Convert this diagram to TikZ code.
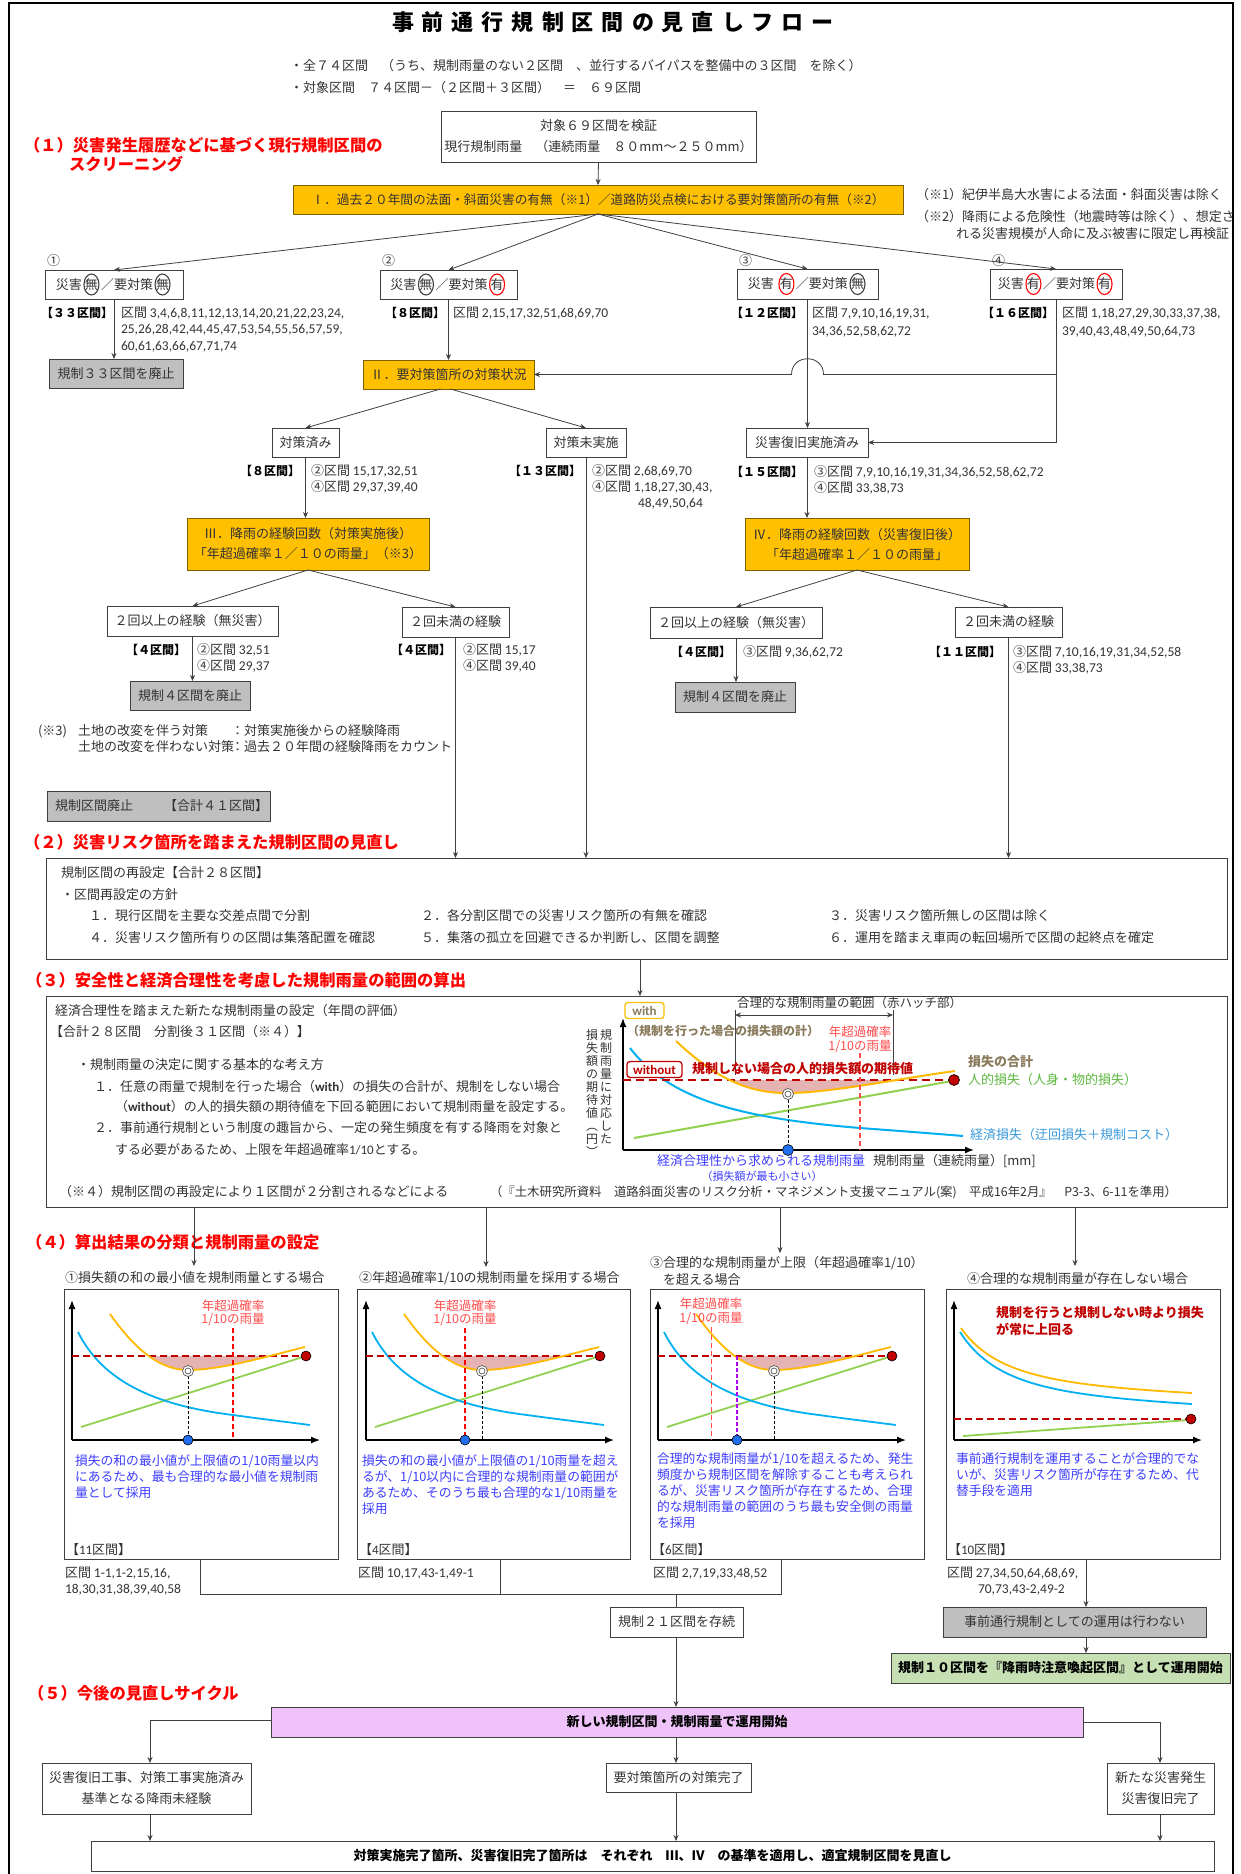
\documentclass[tikz,border=0pt]{standalone}
\usepackage{fontspec}
\setmainfont{Noto Sans CJK JP}
\newfontfamily\carl{Carlito}
\usetikzlibrary{arrows.meta}
\definecolor{tx}{HTML}{333333}
\definecolor{ln}{HTML}{404040}
\definecolor{orangebar}{HTML}{FFC000}
\definecolor{orangeedge}{HTML}{7F6000}
\definecolor{grayfill}{HTML}{BFBFBF}
\definecolor{headred}{HTML}{FF0000}
\definecolor{darkred}{HTML}{C00000}
\definecolor{curveorange}{HTML}{FFB900}
\definecolor{curveblue}{HTML}{00B0F0}
\definecolor{curvegreen}{HTML}{92D050}
\definecolor{hatch}{HTML}{E6B3B3}
\definecolor{noteblue}{HTML}{3D3DFF}
\definecolor{labred}{HTML}{FF4B4B}
\definecolor{olive}{HTML}{8A7B5C}
\definecolor{dotblue}{HTML}{1F6FEF}
\definecolor{violetfill}{HTML}{EFC2FA}
\definecolor{greenfill}{HTML}{C6E0B4}
\definecolor{legblue}{HTML}{3A9AD9}
\definecolor{leggreen}{HTML}{5DB83F}
\definecolor{purpledash}{HTML}{B000F0}

\newcommand\nums[1]{{\carl\fontsize{13.5}{16}\selectfont #1}}
\def\lspx#1{\ifx#1\relax\else#1\hspace{8pt}\expandafter\lspx\fi}
% a character ringed by an upright ellipse
\newcommand\mk[2]{\hspace{1.5pt}\tikz[baseline]{\node[anchor=base,inner sep=0pt,outer sep=0pt,minimum width=0pt,minimum height=0pt,draw=none,fill=none](mkq){#2};\draw[#1,line width=1.1pt](mkq.center) ellipse [x radius=7.5pt,y radius=10.5pt];}\hspace{1.5pt}}
% box from its top-left and bottom-right corners
\newcommand\bxn[7]{\pgfmathsetmacro\bw{#5-#3}\pgfmathsetmacro\bh{#6-#4}%
 \node[#2,minimum width=\bw pt,minimum height=\bh pt,anchor=north west] (#1) at (#3,#4) {#7};}
\def\orangepath{(38,-126) .. controls (60,-95) and (85,-70) .. (116,-70) .. controls (150,-70) and (200,-85) .. (233,-93)}
\newcommand\tgt[2]{\draw[gray!70!black,line width=0.7pt,fill=white] (#1,#2) circle[radius=5.5pt];
 \draw[gray!70!black,line width=0.7pt] (#1,#2) circle[radius=3pt];}
\newcommand\panelaxes[1]{%
 \draw[black,line width=1.3pt,-{Latex[length=9pt,width=7pt]}] (#1,1440) -- (#1,1300);
 \draw[black,line width=1.3pt,-{Latex[length=9pt,width=7pt]}] (#1,1440) -- ++(248,0);}
\newcommand\losscurves[1]{%
 \begin{scope}[shift={(#1,1440)}]
  \begin{scope}\clip (0,-84) rectangle (250,0);
   \fill[hatch] \orangepath -- cycle;
  \end{scope}
  \draw[curvegreen,line width=1.8pt] (9,-13) -- (234,-84);
  \draw[curveblue,line width=1.8pt] (6,-108) .. controls (30,-60) and (80,-35) .. (161,-25) .. controls (190,-21) and (215,-18) .. (238,-15);
  \draw[darkred,line width=1.8pt,dash pattern=on 7pt off 4pt] (0,-84) -- (234,-84);
  \draw[curveorange,line width=1.8pt] \orangepath;
  \fill[darkred,draw=black,line width=0.6pt] (234,-84) circle[radius=5pt];
 \end{scope}}

\tikzset{
 txt/.style={inner sep=0pt,outer sep=0pt,anchor=west,text=tx,font=\fontsize{13}{16}\selectfont},
 txtb/.style={txt,anchor=east,text=black,font=\fontsize{12}{16}\selectfont\bfseries},
 hdr/.style={inner sep=0pt,outer sep=0pt,anchor=west,text=headred,font=\fontsize{16.3}{20}\selectfont\bfseries},
 bxplain/.style={draw=ln,line width=1pt,fill=white,inner sep=0pt,outer sep=0pt,text=tx,align=center,font=\fontsize{13}{21}\selectfont},
 bxorange/.style={bxplain,fill=orangebar,draw=orangeedge},
 bxgray/.style={bxplain,fill=grayfill},
 conn/.style={draw=ln,line width=0.8pt},
 arw/.style={conn,-{Stealth[length=6pt,width=5pt]}},
 note/.style={inner sep=0pt,outer sep=0pt,anchor=north west,align=left,text=noteblue,font=\fontsize{12.8}{16}\selectfont},
 redlab/.style={inner sep=0pt,outer sep=0pt,text=labred,font=\fontsize{12.5}{14}\selectfont},
}

\begin{document}
\begin{tikzpicture}[x=1pt,y=-1pt]
\useasboundingbox[fill=white] (0,0) rectangle (1240,1874);
\draw[black,line width=2.2pt] (9,1900) -- (9,3) -- (1233,3) -- (1233,1900);

% ---------- header ----------
\node[inner sep=0pt,text=black,font=\fontsize{22}{26}\selectfont\bfseries] (title) at (613,22) {\lspx 事前通行規制区間の見直しフロー\relax};
\node[txt] (h1) at (290,66) {・全７４区間　（うち、規制雨量のない２区間　、並行するバイパスを整備中の３区間　を除く）};
\node[txt] (h2) at (290,88) {・対象区間　７４区間－（２区間＋３区間）　＝　６９区間};

% ---------- (1) screening ----------
\node[hdr] (s1a) at (24,145) {（１）災害発生履歴などに基づく現行規制区間の};
\node[hdr] (s1b) at (69,164) {スクリーニング};
\bxn{top}{bxplain}{441}{111}{756}{162}{対象６９区間を検証\\現行規制雨量　（連続雨量　８０mm～２５０mm）}
\bxn{bar1}{bxorange,font=\fontsize{12.7}{16}\selectfont}{293}{185}{903}{214}{Ⅰ．過去２０年間の法面・斜面災害の有無（※1）／道路防災点検における要対策箇所の有無（※2）}
\draw[arw] (top.south) -- (bar1.north);
\node[txt] (n1) at (916,195) {（※1）紀伊半島大水害による法面・斜面災害は除く};
\node[txt] (n2) at (916,217) {（※2）降雨による危険性（地震時等は除く）、想定さ};
\node[txt] (n3) at (956,234) {れる災害規模が人命に及ぶ被害に限定し再検証};

\bxn{k1}{bxplain}{45}{270}{183}{299}{災害\mk{ln}{無}／要対策\mk{ln}{無}}
\bxn{k2}{bxplain}{380}{270}{517}{299}{災害\mk{ln}{無}／要対策\mk{red}{有}}
\bxn{k3}{bxplain}{737}{269}{878}{299}{災害 \mk{red}{有}／要対策\mk{ln}{無}}
\bxn{k4}{bxplain}{990}{269}{1122}{299}{災害\mk{red}{有}／要対策\mk{red}{有}}
\node[txt] (m1) at (47,261) {①};
\node[txt] (m2) at (382,261) {②};
\node[txt] (m3) at (739,261) {③};
\node[txt] (m4) at (992,261) {④};
\coordinate (bb) at (598,214);
\draw[arw] (bb) -- (k1.north);
\draw[arw] (bb) -- (k2.north);
\draw[arw] (bb) -- (k3.north);
\draw[arw] (bb) -- (k4.north);

\node[txtb] at (113,313) {【３３区間】};
\node[txt] at (121,313) {区間 \nums{3,4,6,8,11,12,13,14,20,21,22,23,24,}};
\node[txt] at (121,330) {\nums{25,26,28,42,44,45,47,53,54,55,56,57,59,}};
\node[txt] at (121,347) {\nums{60,61,63,66,67,71,74}};
\node[txtb] at (445,313) {【８区間】};
\node[txt] at (453,313) {区間 \nums{2,15,17,32,51,68,69,70}};
\node[txtb] at (803,313) {【１２区間】};
\node[txt] at (812,313) {区間 \nums{7,9,10,16,19,31,}};
\node[txt] at (812,332) {\nums{34,36,52,58,62,72}};
\node[txtb] at (1054,313) {【１６区間】};
\node[txt] at (1062,313) {区間 \nums{1,18,27,29,30,33,37,38,}};
\node[txt] at (1062,332) {\nums{39,40,43,48,49,50,64,73}};

\bxn{g33}{bxgray}{49}{359}{183}{388}{規制３３区間を廃止}
\bxn{b2}{bxorange}{363}{360}{534}{389}{Ⅱ．要対策箇所の対策状況}
\draw[arw] (k1.south) -- (k1.south |- g33.north);
\draw[arw] (k2.south) -- (k2.south |- b2.north);

\bxn{tk1}{bxplain}{272}{428}{339}{457}{対策済み}
\bxn{tk2}{bxplain}{546}{428}{626}{457}{対策未実施}
\bxn{sf}{bxplain}{746}{428}{868}{457}{災害復旧実施済み}
\draw[arw] (k3.south) -- (k3.south |- sf.north);
\draw[arw] (k4.south) -- (k4.south |- sf.east) -- (sf.east);
\coordinate (jn) at (k4.south |- b2.east);
\draw[arw] (jn) -- ([xshift=16pt]k3.south |- b2.east) .. controls +(0,-21) and +(0,-21) .. ([xshift=-16pt]k3.south |- b2.east) -- (b2.east);
\draw[arw] ([xshift=-8pt]b2.south) -- (tk1.north);
\draw[arw] ([xshift=2pt]b2.south) -- (tk2.north);

\node[txtb] at (300,471) {【８区間】};
\node[txt] at (311,471) {②区間 \nums{15,17,32,51}};
\node[txt] at (311,487) {④区間 \nums{29,37,39,40}};
\node[txtb] at (581,471) {【１３区間】};
\node[txt] at (592,471) {②区間 \nums{2,68,69,70}};
\node[txt] at (592,487) {④区間 \nums{1,18,27,30,43,}};
\node[txt] at (638,504) {\nums{48,49,50,64}};
\node[txtb] at (803,472) {【１５区間】};
\node[txt] at (814,472) {③区間 \nums{7,9,10,16,19,31,34,36,52,58,62,72}};
\node[txt] at (814,488) {④区間 \nums{33,38,73}};

\bxn{b3}{bxorange,font=\fontsize{13}{20}\selectfont}{187}{518}{429}{570}{Ⅲ．降雨の経験回数（対策実施後）\\「年超過確率１／１０の雨量」（※3）}
\bxn{b4}{bxorange,font=\fontsize{13}{20}\selectfont}{745}{518}{969}{570}{Ⅳ．降雨の経験回数（災害復旧後）\\「年超過確率１／１０の雨量」}
\draw[arw] (tk1.south) -- (tk1.south |- b3.north);
\draw[arw] (sf.south) -- (sf.south |- b4.north);

\bxn{l2a}{bxplain}{107}{606}{278}{636}{２回以上の経験（無災害）}
\bxn{l2b}{bxplain}{402}{607}{509}{637}{２回未満の経験}
\bxn{r2a}{bxplain}{650}{607}{822}{638}{２回以上の経験（無災害）}
\bxn{r2b}{bxplain}{955}{607}{1062}{637}{２回未満の経験}
\draw[arw] (b3.south) -- (l2a.north);
\draw[arw] (b3.south) -- (l2b.north);
\draw[arw] (b4.south) -- (r2a.north);
\draw[arw] (b4.south) -- (r2b.north);

\node[txtb] at (186,650) {【４区間】};
\node[txt] at (197,650) {②区間 \nums{32,51}};
\node[txt] at (197,666) {④区間 \nums{29,37}};
\node[txtb] at (451,650) {【４区間】};
\node[txt] at (463,650) {②区間 \nums{15,17}};
\node[txt] at (463,666) {④区間 \nums{39,40}};
\node[txtb] at (731,652) {【４区間】};
\node[txt] at (743,652) {③区間 \nums{9,36,62,72}};
\node[txtb] at (1001,652) {【１１区間】};
\node[txt] at (1013,652) {③区間 \nums{7,10,16,19,31,34,52,58}};
\node[txt] at (1013,668) {④区間 \nums{33,38,73}};

\bxn{g4a}{bxgray}{130}{681}{250}{710}{規制４区間を廃止}
\bxn{g4b}{bxgray}{675}{682}{795}{712}{規制４区間を廃止}
\draw[arw] (l2a.south) -- (l2a.south |- g4a.north);
\draw[arw] (r2a.south) -- (r2a.south |- g4b.north);

\node[txt] at (38,731) {(※3)};
\node[txt] at (78,731) {土地の改変を伴う対策};
\node[txt] at (231,731) {：対策実施後からの経験降雨};
\node[txt] at (78,747) {土地の改変を伴わない対策};
\node[txt] at (231,747) {：過去２０年間の経験降雨をカウント};

\bxn{g41}{bxgray}{47}{791}{270}{821}{}
\node[txt] at (55,806) {規制区間廃止};
\node[txt] at (164,806) {【合計４１区間】};

% ---------- (2) ----------
\node[hdr] (s2) at (24,842) {（２）災害リスク箇所を踏まえた規制区間の見直し};
\bxn{box2}{bxplain}{46}{858}{1227}{959}{}
\draw[arw] (tk2.south) -- (tk2.south |- box2.north);
\draw[arw] (l2b.south) -- (l2b.south |- box2.north);
\draw[arw] (r2b.south) -- (r2b.south |- box2.north);
\node[txt] at (61,873) {規制区間の再設定【合計２８区間】};
\node[txt] at (61,895) {・区間再設定の方針};
\node[txt] at (89,916) {１．現行区間を主要な交差点間で分割};
\node[txt] at (421,916) {２．各分割区間での災害リスク箇所の有無を確認};
\node[txt] at (829,916) {３．災害リスク箇所無しの区間は除く};
\node[txt] at (89,938) {４．災害リスク箇所有りの区間は集落配置を確認};
\node[txt] at (421,938) {５．集落の孤立を回避できるか判断し、区間を調整};
\node[txt] at (829,938) {６．運用を踏まえ車両の転回場所で区間の起終点を確定};

% ---------- (3) ----------
\node[hdr] (s3) at (26,980) {（３）安全性と経済合理性を考慮した規制雨量の範囲の算出};
\bxn{box3}{bxplain}{46}{996}{1227}{1207}{}
\coordinate (c23) at (640,959);
\draw[arw] (box2.south -| c23) -- (box3.north -| c23);
\begin{scope}[every node/.append style={font=\fontsize{12.7}{16}\selectfont}]
\node[txt] at (55,1011) {経済合理性を踏まえた新たな規制雨量の設定（年間の評価）};
\node[txt] at (50,1032) {【合計２８区間　分割後３１区間（※４）】};
\node[txt] at (77,1065) {・規制雨量の決定に関する基本的な考え方};
\node[txt] at (94,1087) {１．任意の雨量で規制を行った場合（{\carl\bfseries with}）の損失の合計が、規制をしない場合};
\node[txt] at (115,1107) {（{\carl\bfseries without}）の人的損失額の期待値を下回る範囲において規制雨量を設定する。};
\node[txt] at (94,1128) {２．事前通行規制という制度の趣旨から、一定の発生頻度を有する降雨を対象と};
\node[txt] at (115,1150) {する必要があるため、上限を年超過確率{\carl 1/10}とする。};
\node[txt] at (59,1192) {（※４）規制区間の再設定により１区間が２分割されるなどによる};
\end{scope}
\node[txt,font=\fontsize{12.4}{15}\selectfont] at (490,1192) {（『土木研究所資料　道路斜面災害のリスク分析・マネジメント支援マニュアル(案)　平成16年2月』　P3-3、6-11を準用）};

% loss chart
\node[inner sep=0pt,anchor=north,align=center,text=tx,font=\fontsize{12}{13}\selectfont] (ylab1) at (606,1029) {規\\制\\雨\\量\\に\\対\\応\\し\\た};
\node[inner sep=0pt,anchor=north,align=center,text=tx,font=\fontsize{12}{13}\selectfont] (ylab2) at (592,1029) {損\\失\\額\\の\\期\\待\\値\\︵\\円\\︶};
\draw[black,line width=1.5pt,-{Latex[length=9pt,width=7pt]}] (623,1150) -- (623,1018);
\draw[black,line width=1.5pt,-{Latex[length=9pt,width=7pt]}] (623,1150) -- (974,1150);
\begin{scope}
 \clip (600,1080) rectangle (1000,1200);
 \fill[hatch] (676,1041) .. controls (712,1075) and (745,1093) .. (786,1093) .. controls (830,1093) and (890,1080) .. (955,1071) -- cycle;
\end{scope}
\draw[curvegreen,line width=2pt] (634,1138) -- (952,1081);
\draw[curveblue,line width=2pt] (630,1048) .. controls (670,1100) and (740,1118) .. (860,1128) .. controls (900,1131) and (940,1134) .. (963,1136);
\draw[darkred,line width=2pt,dash pattern=on 8pt off 5pt] (623,1080) -- (954,1080);
\draw[curveorange,line width=2pt] (676,1041) .. controls (712,1075) and (745,1093) .. (786,1093) .. controls (830,1093) and (890,1080) .. (955,1071);
\draw[labred,line width=1.5pt,dash pattern=on 5pt off 3pt] (860,1053) -- (860,1150);
\draw[black,line width=0.7pt,dash pattern=on 3pt off 2pt] (788,1100) -- (788,1150);
\tgt{788}{1094}
\fill[darkred,draw=black,line width=0.6pt] (954,1080) circle[radius=5.5pt];
\fill[dotblue,draw=black,line width=0.6pt] (788,1150) circle[radius=5.5pt];
\draw[conn] (735,1010) -- (735,1075);
\draw[conn] (893,1010) -- (893,1075);
\draw[conn,{Stealth[length=6pt,width=5pt]}-{Stealth[length=6pt,width=5pt]}] (735,1015) -- (893,1015);
\node[txt,font=\fontsize{12.5}{15}\selectfont] at (737,1003) {合理的な規制雨量の範囲（赤ハッチ部）};
\node[inner sep=0pt,rounded corners=3pt,draw=orangebar,line width=1.3pt,fill=white,minimum width=39pt,minimum height=16pt,text=olive,font=\carl\bfseries\fontsize{13}{15}\selectfont] (withlab) at (644.5,1010.5) {with};
\node[txt,text=olive,font=\fontsize{12}{16}\selectfont\bfseries] at (627,1031) {（規制を行った場合の損失額の計）};
\node[redlab] at (860,1032) {年超過確率};
\node[redlab] at (860,1047) {1/10の雨量};
\node[inner sep=0pt,rounded corners=3pt,draw=darkred,line width=1.3pt,fill=white,minimum width=55pt,minimum height=16pt,text=darkred,font=\carl\bfseries\fontsize{13}{15}\selectfont] (wolab) at (654.5,1069.5) {without};
\node[txt,text=darkred,font=\fontsize{13}{16}\selectfont\bfseries] at (692,1069) {規制しない場合の人的損失額の期待値};
\node[txt,text=olive,font=\fontsize{13}{16}\selectfont\bfseries] at (968,1062) {損失の合計};
\node[txt,text=leggreen] at (968,1080) {人的損失（人身・物的損失）};
\node[txt,text=legblue] at (970,1135) {経済損失（迂回損失＋規制コスト）};
\node[inner sep=0pt,text=noteblue,font=\fontsize{13}{16}\selectfont] at (761,1161) {経済合理性から求められる規制雨量};
\node[inner sep=0pt,text=noteblue,font=\fontsize{11}{13}\selectfont] at (762,1176) {（損失額が最も小さい）};
\node[txt] at (873,1161) {規制雨量（連続雨量）[mm]};

% ---------- (4) ----------
\node[hdr] (s4) at (26,1242) {（４）算出結果の分類と規制雨量の設定};
\node[txt] (pt1) at (65,1278) {①損失額の和の最小値を規制雨量とする場合};
\node[txt] (pt2) at (359,1278) {②年超過確率1/10の規制雨量を採用する場合};
\node[txt] (pt3) at (650,1263) {③合理的な規制雨量が上限（年超過確率1/10）};
\node[txt] (pt3b) at (663,1280) {を超える場合};
\node[txt] (pt4) at (967,1279) {④合理的な規制雨量が存在しない場合};
\coordinate (a1) at (194,1266);
\coordinate (a2) at (486,1267);
\coordinate (a3) at (780,1253);
\coordinate (a4) at (1075,1266);
\draw[arw] (box3.south -| a1) -- (a1);
\draw[arw] (box3.south -| a2) -- (a2);
\draw[arw] (box3.south -| a3) -- (a3);
\draw[arw] (box3.south -| a4) -- (a4);

\bxn{p1}{bxplain}{64.5}{1289}{338}{1559}{}
\bxn{p2}{bxplain}{357}{1289}{630}{1559}{}
\bxn{p3}{bxplain}{650}{1289}{924}{1559}{}
\bxn{p4}{bxplain}{946}{1289}{1220}{1559}{}

% panel 1
\panelaxes{72}
\losscurves{72}
\begin{scope}[shift={(72,1440)}]
 \draw[red,line width=1.8pt,dash pattern=on 5pt off 3pt] (161,-112) -- (161,0);
 \draw[black,line width=0.7pt,dash pattern=on 3pt off 2pt] (116,-64) -- (116,0);
 \tgt{116}{-69}
 \fill[dotblue,draw=black,line width=0.6pt] (116,0) circle[radius=5pt];
\end{scope}
\node[redlab] at (233,1306) {年超過確率};
\node[redlab] at (233,1320) {1/10の雨量};
\node[note] at (75,1455) {損失の和の最小値が上限値の1/10雨量以内\\にあるため、最も合理的な最小値を規制雨\\量として採用};
\node[txt] at (66,1550) {【{\carl 11}区間】};

% panel 2
\panelaxes{366}
\losscurves{366}
\begin{scope}[shift={(366,1440)}]
 \draw[red,line width=1.8pt,dash pattern=on 5pt off 3pt] (99,-112) -- (99,0);
 \draw[black,line width=0.7pt,dash pattern=on 3pt off 2pt] (116,-64) -- (116,0);
 \tgt{116}{-69}
 \fill[dotblue,draw=black,line width=0.6pt] (99,0) circle[radius=5pt];
\end{scope}
\node[redlab] at (465,1306) {年超過確率};
\node[redlab] at (465,1320) {1/10の雨量};
\node[note] at (362,1455) {損失の和の最小値が上限値の1/10雨量を超え\\るが、1/10以内に合理的な規制雨量の範囲が\\あるため、そのうち最も合理的な1/10雨量を\\採用};
\node[txt] at (359,1550) {【{\carl 4}区間】};

% panel 3
\panelaxes{658}
\losscurves{658}
\begin{scope}[shift={(658,1440)}]
 \draw[labred,line width=1pt,dash pattern=on 5pt off 3pt] (53,-113) -- (53,0);
 \draw[purpledash,line width=1.3pt,dash pattern=on 4pt off 2pt] (79,-84) -- (79,0);
 \draw[black,line width=0.7pt,dash pattern=on 3pt off 2pt] (116,-64) -- (116,0);
 \tgt{116}{-69}
 \fill[dotblue,draw=black,line width=0.6pt] (79,0) circle[radius=5pt];
\end{scope}
\node[redlab] at (711,1304) {年超過確率};
\node[redlab] at (711,1319) {1/10の雨量};
\node[note] at (657,1453) {合理的な規制雨量が1/10を超えるため、発生\\頻度から規制区間を解除することも考えられ\\るが、災害リスク箇所が存在するため、合理\\的な規制雨量の範囲のうち最も安全側の雨量\\を採用};
\node[txt] at (652,1550) {【{\carl 6}区間】};

% panel 4
\panelaxes{954}
\begin{scope}[shift={(954,1440)}]
 \draw[curvegreen,line width=1.8pt] (9,-4) -- (235,-20);
 \draw[curveblue,line width=1.8pt] (6,-108) .. controls (40,-55) and (100,-45) .. (238,-36);
 \draw[curveorange,line width=1.8pt] (7,-112) .. controls (40,-65) and (100,-55) .. (238,-47);
 \draw[darkred,line width=1.8pt,dash pattern=on 7pt off 4pt] (0,-21) -- (237,-21);
 \fill[darkred,draw=black,line width=0.6pt] (237,-21) circle[radius=5pt];
\end{scope}
\node[txt,text=darkred,font=\fontsize{13}{16}\selectfont\bfseries] at (996,1313) {規制を行うと規制しない時より損失};
\node[txt,text=darkred,font=\fontsize{13}{16}\selectfont\bfseries] at (996,1329) {が常に上回る};
\node[note] at (956,1453) {事前通行規制を運用することが合理的でな\\いが、災害リスク箇所が存在するため、代\\替手段を適用};
\node[txt] at (948,1550) {【{\carl 10}区間】};

\node[txt] at (65,1573) {区間 \nums{1-1,1-2,15,16,}};
\node[txt] at (65,1590) {\nums{18,30,31,38,39,40,58}};
\node[txt] at (358,1573) {区間 \nums{10,17,43-1,49-1}};
\node[txt] at (653,1573) {区間 \nums{2,7,19,33,48,52}};
\node[txt] at (947,1573) {区間 \nums{27,34,50,64,68,69,}};
\node[txt] at (978,1590) {\nums{70,73,43-2,49-2}};

% ---------- results ----------
\bxn{keep}{bxplain}{610}{1607}{743}{1637}{規制２１区間を存続}
\bxn{noop}{bxgray}{943}{1607}{1206}{1637}{事前通行規制としての運用は行わない}
\bxn{grn}{bxplain,fill=greenfill,text=black,font=\fontsize{13}{16}\selectfont\bfseries}{891}{1653}{1230}{1683}{規制１０区間を『降雨時注意喚起区間』として運用開始}
\coordinate (j1) at (200,1594);
\coordinate (j3) at (781,1594);
\coordinate (j2) at (500,1594);
\coordinate (jk) at (676,1594);
\draw[conn] (p1.south -| j1) -- (j1) -- (j3) -- (p3.south -| j3);
\draw[conn] (p2.south -| j2) -- (j2);
\draw[conn] (jk) -- (keep.north -| jk);
\coordinate (j4) at (1086,1600);
\draw[arw] (p4.south -| j4) -- (noop.north -| j4);
\draw[arw] (noop.south -| j4) -- (grn.north -| j4);

% ---------- (5) ----------
\node[hdr] (s5) at (28,1693) {（５）今後の見直しサイクル};
\bxn{newop}{bxplain,fill=violetfill,text=black,font=\fontsize{13}{16}\selectfont\bfseries}{271}{1707}{1083}{1737}{新しい規制区間・規制雨量で運用開始}
\bxn{c1}{bxplain}{42}{1763}{251}{1814}{災害復旧工事、対策工事実施済み\\基準となる降雨未経験}
\bxn{c2}{bxplain}{606}{1763}{751}{1792}{要対策箇所の対策完了}
\bxn{c3}{bxplain}{1107}{1763}{1214}{1814}{新たな災害発生\\災害復旧完了}
\bxn{fin}{bxplain,text=black,font=\fontsize{13}{16}\selectfont\bfseries}{91}{1841}{1214}{1871}{対策実施完了箇所、災害復旧完了箇所は　それぞれ　Ⅲ、Ⅳ　の基準を適用し、適宜規制区間を見直し}
\draw[arw] (keep.south -| jk) -- (newop.north -| jk);
\coordinate (q1) at (150,1720);
\coordinate (q2) at (1160,1722);
\draw[arw] (newop.west |- q1) -- (q1) -- (q1 |- c1.north);
\draw[arw] (newop.east |- q2) -- (q2) -- (q2 |- c3.north);
\draw[arw] (newop.south -| jk) -- (c2.north -| jk);
\draw[arw] (c1.south -| q1) -- (fin.north -| q1);
\draw[arw] (c2.south -| jk) -- (fin.north -| jk);
\draw[arw] (c3.south -| q2) -- (fin.north -| q2);
\end{tikzpicture}
\end{document}
